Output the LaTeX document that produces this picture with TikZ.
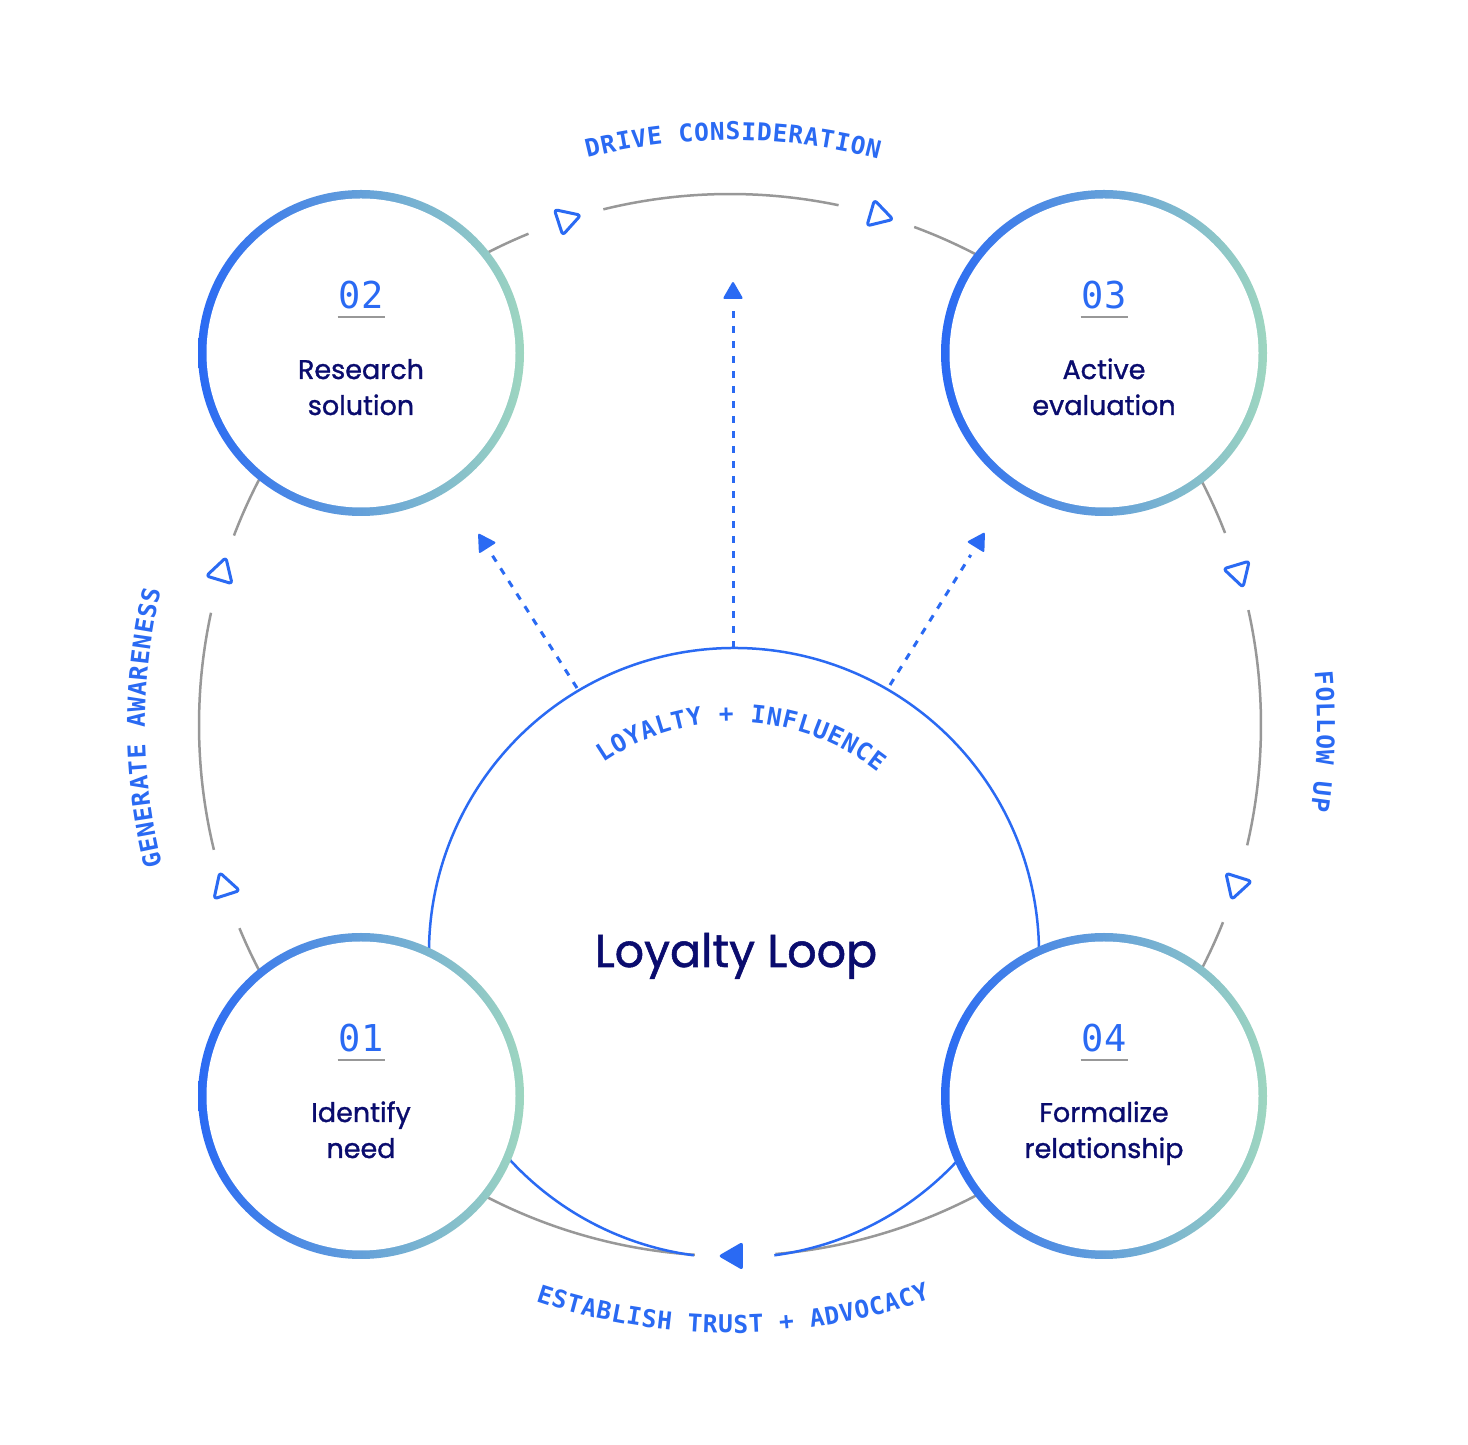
\documentclass[tikz,border=0pt]{standalone}
\usepackage{fontspec}
\newfontfamily\popp{Poppins}[FakeBold=1.2]
\newfontfamily\monofam{DejaVu Sans Mono}
\usetikzlibrary{calc}
\definecolor{cblue}{RGB}{42,106,243}
\definecolor{cnavy}{RGB}{10,12,110}
\definecolor{cgray}{RGB}{152,152,152}
\definecolor{cteal}{RGB}{158,214,192}
\tikzset{
  grayline/.style={draw=cgray, line width=2.5pt},
  innerline/.style={draw=cblue, line width=2.5pt},
  dotline/.style={draw=cblue, line width=3pt, dash pattern=on 7pt off 8pt},
  tristyle/.style={draw=cblue, line width=3pt, rounded corners=3pt, line join=round},
  archar/.style={font=\monofam\bfseries\fontsize{24.5}{24.5}\selectfont, text=cblue, anchor=base, inner sep=0pt},
  numtext/.style={font=\monofam\fontsize{37}{37}\selectfont, text=cblue, anchor=base, inner sep=0pt},
  labtext/.style={font=\popp\fontsize{27}{27}\selectfont, text=cnavy, anchor=base, inner sep=0pt},
  titletext/.style={font=\popp\fontsize{46}{46}\selectfont, text=cnavy, anchor=base, inner sep=0pt},
  uline/.style={draw=cgray, line width=1.5pt}
}
% #1 prefix, #2 center, #3 radius, #4 first angle, #5 step, #6 rotation offset, #7 list
\newcommand{\arctext}[7]{%
  \foreach \ch [count=\i from 0] in {#7} {%
    \pgfmathsetmacro{\ang}{#4+\i*(#5)}%
    \pgfmathsetmacro{\rot}{\ang+#6}%
    \node[archar, rotate=\rot] (#1\i) at ($(#2)+(\ang:#3)$) {\ch};
  }%
}
\newcommand{\garc}[2]{\draw[grayline] ($(G)+(#1:531)$) arc[start angle=#1, end angle=#2, radius=531];}
\newcommand{\ringmark}[1]{%
  \pgfmathsetmacro{\dd}{#1-90}%
  \draw[tristyle] ($(G)+(#1:531)+(\dd:15.5)$) -- ($(G)+(#1:531)+(\dd+120:15.5)$) -- ($(G)+(#1:531)+(\dd+240:15.5)$) -- cycle;}
\newcommand{\headat}[3]{%
  \fill[cblue, rounded corners=2pt] ($(#1)!12pt!(#2)+(#3:12)$) -- ($(#1)!12pt!(#2)+(#3+120:12)$) -- ($(#1)!12pt!(#2)+(#3+240:12)$) -- cycle;}
\newcommand{\stage}[5]{%
  \shade[left color=cblue, right color=cteal] (#2) circle[radius=163];
  \fill[white] (#2) circle[radius=154.5];
  \node[numtext] (#1num) at ($(#2)+(0,44)$) {#3};
  \draw[uline] ($(#2)+(-23.5,36)$) -- ($(#2)+(23.5,36)$);
  \node[labtext] (#1a) at ($(#2)+(0,-26)$) {#4};
  \node[labtext] (#1b) at ($(#2)+(0,-62)$) {#5};
}
\begin{document}
\begin{tikzpicture}[x=1pt,y=1pt]
\useasboundingbox[fill=white] (0,0) rectangle (1468,1444);
\coordinate (G) at (730,719);
\coordinate (I) at (734,491);
\coordinate (S1) at (361,348);
\coordinate (S2) at (361,1091);
\coordinate (S3) at (1104,1091);
\coordinate (S4) at (1104,348);
% outer gray ring
\garc{-85.1}{-21.8}
\garc{-13.1}{12.5}
\garc{21.2}{69.7}
\garc{78.2}{103.8}
\garc{112.3}{159.1}
\garc{167.8}{193.6}
\garc{202.5}{266.2}
% inner blue circle
\draw[innerline] ($(I)+(-82.4:305)$) arc[start angle=-82.4, end angle=262.4, radius=305];
% dotted arrows
\coordinate (vS) at (733,796); \coordinate (vT) at (733,1163);
\coordinate (lS) at (577,756); \coordinate (lT) at (478,911);
\coordinate (rS) at (890,759); \coordinate (rT) at (985,912);
\draw[dotline] (vS) -- ($(vT)!27pt!(vS)$);
\draw[dotline] (lS) -- ($(lT)!27pt!(lS)$);
\draw[dotline] (rS) -- ($(rT)!27pt!(rS)$);
\headat{vT}{vS}{90}
\headat{lT}{lS}{122.6}
\headat{rT}{rS}{58.2}
% stage circles
\stage{s1}{S1}{01}{Identify}{need}
\stage{s2}{S2}{02}{Research}{solution}
\stage{s3}{S3}{03}{Active}{evaluation}
\stage{s4}{S4}{04}{Formalize}{relationship}
% ring markers
\ringmark{108.0}
\ringmark{73.8}
\ringmark{163.3}
\ringmark{197.8}
\ringmark{16.7}
\ringmark{-17.5}
\fill[cblue, rounded corners=3pt] ($(G)+(270.5:531)+(180:16.5)$) -- ($(G)+(270.5:531)+(300:16.5)$) -- ($(G)+(270.5:531)+(60:16.5)$) -- cycle;
% title
\node[titletext] (title) at (736,477) {Loyalty Loop};
% curved labels
\arctext{top}{G}{585}{103.38}{-1.52}{-90}{D,R,I,V,E,{},C,O,N,S,I,D,E,R,A,T,I,O,N}
\arctext{lft}{G}{585}{193.22}{-1.52}{-90}{G,E,N,E,R,A,T,E,{},A,W,A,R,E,N,E,S,S}
\arctext{rgt}{G}{587}{4.48}{-1.52}{-90}{F,O,L,L,O,W,{},U,P}
\arctext{bot}{G}{608}{252.05}{1.46}{90}{E,S,T,A,B,L,I,S,H,{},T,R,U,S,T,{},+,{},A,D,V,O,C,A,C,Y}
\arctext{inn}{I}{231}{122.65}{-3.85}{-90}{L,O,Y,A,L,T,Y,{},+,{},I,N,F,L,U,E,N,C,E}
\end{tikzpicture}
\end{document}
